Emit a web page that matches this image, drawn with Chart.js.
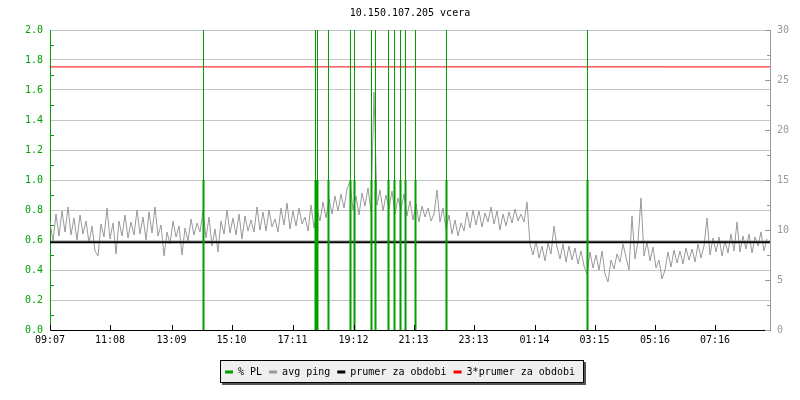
<!DOCTYPE html>
<html><head><meta charset="utf-8">
<script src="https://cdn.jsdelivr.net/npm/chart.js@4/dist/chart.umd.min.js"></script>
<style>html,body{margin:0;padding:0;background:#fff}#wrap{width:800px;height:400px}</style>
</head><body><div id="wrap"><canvas id="c" width="800" height="400"></canvas></div>
<script>
const titleText = '10.150.107.205 vcera';
const xTickLabels = ['09:07','11:08','13:09','15:10','17:11','19:12','21:13','23:13','01:14','03:15','05:16','07:16'];
const xTickMinutes = [0,120,243,363,485,607,727,847,969,1089,1210,1330];
const yLeftTicks = [0,0.2,0.4,0.6,0.8,1.0,1.2,1.4,1.6,1.8,2.0];
const yRightTicks = [0,5,10,15,20,25,30];
const legendLabels = ['% PL','avg ping','prumer za obdobi','3*prumer za obdobi'];

// packet loss events (minutes from 09:07)
const plTimes = [307,531,535,557,601,609,643,651,677,689,701,711,731,793,1075];
const plValues = [10,10,10,10,10,10,10,10,10,10,10,10,10,10,10];
const plTick = [1,1,1,1,1,1,1,1,1,1,1,1,1,1,1];

// avg ping (ms), one sample every 6 minutes
const pingStep = 6;
const pingMs = [
10.8, 8.9, 11.6, 9.4, 11.9, 9.8, 12.3, 9.5, 11.2, 9.0,
11.5, 9.6, 10.9, 8.7, 10.4, 7.9, 7.4, 10.6, 9.3, 12.2,
9.1, 10.7, 7.6, 10.9, 9.4, 11.5, 9.2, 10.8, 9.5, 12.0,
9.6, 11.3, 9.0, 11.8, 9.7, 12.3, 9.4, 10.5, 7.4, 9.8,
8.6, 10.9, 9.3, 10.4, 7.5, 10.2, 8.9, 11.1, 9.5, 10.7,
9.8, 11.9, 9.2, 11.3, 8.4, 10.1, 7.8, 10.9, 9.6, 12.0,
9.7, 11.2, 9.5, 11.6, 9.1, 11.4, 9.9, 11.0, 9.8, 12.3,
10.0, 11.8, 9.9, 12.0, 10.3, 11.1, 9.8, 12.2, 10.5, 12.7,
10.1, 11.9, 10.4, 12.2, 10.6, 11.3, 9.9, 12.5, 10.2, 12.0,
10.9, 12.8, 11.2, 13.1, 11.6, 13.4, 11.9, 13.6, 12.2, 14.1,
14.8, 12.0, 13.4, 11.5, 13.7, 12.4, 14.2, 11.8, 23.8, 12.5,
14.0, 11.9, 13.5, 12.1, 13.9, 11.6, 13.2, 12.0, 13.6, 11.4,
12.9, 11.0, 12.6, 10.8, 12.4, 11.3, 12.2, 10.9, 11.6, 14.0,
10.8, 12.2, 10.1, 11.5, 9.6, 11.0, 9.4, 10.7, 9.9, 11.8,
10.2, 12.0, 10.5, 11.9, 10.3, 11.7, 10.8, 12.3, 10.6, 11.9,
10.0, 11.6, 10.4, 11.8, 10.7, 12.1, 10.9, 11.6, 10.8, 12.8,
8.6, 7.5, 8.9, 7.2, 8.4, 6.9, 8.7, 7.6, 10.4, 8.3,
7.1, 8.6, 6.8, 8.4, 7.0, 8.2, 6.6, 7.9, 6.4, 5.6,
7.8, 6.2, 7.5, 6.0, 7.9, 5.6, 4.8, 7.0, 6.1, 7.6,
6.8, 8.6, 7.3, 6.0, 11.4, 7.1, 8.9, 13.2, 7.4, 8.8,
6.9, 8.3, 6.2, 7.0, 5.1, 6.0, 7.8, 6.3, 8.0, 6.7,
7.9, 6.6, 8.2, 7.0, 8.1, 6.8, 8.6, 7.2, 8.4, 11.2,
7.5, 9.2, 7.8, 9.3, 7.4, 8.9, 7.7, 9.6, 7.9, 10.8,
7.8, 9.4, 8.1, 9.6, 7.7, 9.3, 8.4, 9.8, 7.9, 9.1
];
const meanPing = [8.77];
const meanTimes = [0, 1440];

const GREEN = '#00a000', GRAY = '#999999', GRID = '#c4c4c4';
const MONO = 'DejaVu Sans Mono';

function spikes(times, vals){ const out=[]; times.forEach((t,i)=>{ out.push({x:t,y:0},{x:t,y:vals[i]},{x:t,y:null}); }); return out; }
const pingData = pingMs.map((v,i)=>({x:i*pingStep,y:v}));
const meanData = meanTimes.map(t=>({x:t,y:meanPing[0]}));
const redData = meanTimes.map(t=>({x:t,y:3*meanPing[0]}));

const extras = {
  id:'extras',
  beforeDraw(chart){
    const lg = chart.legend; if(!lg || !lg.legendHitBoxes.length) return;
    const hb = lg.legendHitBoxes;
    const l = Math.min(...hb.map(h=>h.left)) - 5;
    const r = Math.max(...hb.map(h=>h.left+h.width)) + 9;
    const t = lg.top, b = t + 23;
    const ctx = chart.ctx; ctx.save();
    ctx.fillStyle = '#555'; ctx.fillRect(Math.round(l)+2, t+2, Math.round(r-l), b-t);
    ctx.fillStyle = '#efefef'; ctx.fillRect(Math.round(l), t, Math.round(r-l), b-t);
    ctx.strokeStyle = '#000'; ctx.lineWidth = 1;
    ctx.strokeRect(Math.round(l)+0.5, t+0.5, Math.round(r-l)-1, b-t-1);
    ctx.restore();
  },
  afterDraw(chart){
    const ctx = chart.ctx, a = chart.chartArea, ys = chart.scales.y, y1 = chart.scales.y1, xs = chart.scales.x;
    ctx.save(); ctx.lineWidth = 1;
    ctx.strokeStyle = GREEN; ctx.beginPath();
    for (let k=1;k<20;k+=2){ const py = Math.round(ys.getPixelForValue(k/10))+0.5; ctx.moveTo(a.left, py); ctx.lineTo(a.left+4, py); }
    ctx.stroke();
    ctx.strokeStyle = GRAY; ctx.beginPath();
    for (let k=0;k<=12;k++){ const py = Math.round(y1.getPixelForValue(k*2.5))+0.5; const len = k%2===0?5:3; ctx.moveTo(a.right, py); ctx.lineTo(a.right-len, py); }
    ctx.stroke();
    ctx.strokeStyle = '#000'; ctx.beginPath();
    xTickMinutes.forEach(v=>{ const px = Math.round(xs.getPixelForValue(v))+0.5; ctx.moveTo(px, a.bottom); ctx.lineTo(px, a.bottom-5); });
    ctx.stroke();
    ctx.restore();
  }
};

new Chart(document.getElementById('c'), {
  type:'line',
  data:{ datasets:[
    {label:legendLabels[0], data:spikes(plTimes,plValues), yAxisID:'y', borderColor:GREEN, backgroundColor:GREEN, borderWidth:1, pointRadius:0, spanGaps:false, order:0},
    {label:'pl tick', data:spikes(plTimes,plTick), yAxisID:'y', borderColor:GREEN, backgroundColor:GREEN, borderWidth:2, pointRadius:0, spanGaps:false, order:1},
    {label:legendLabels[1], data:pingData, yAxisID:'y1', borderColor:GRAY, backgroundColor:GRAY, borderWidth:1, pointRadius:0, order:4},
    {label:legendLabels[2], data:meanData, yAxisID:'y1', borderColor:'#000', backgroundColor:'#000', borderWidth:2, pointRadius:0, order:2},
    {label:legendLabels[3], data:redData, yAxisID:'y1', borderColor:'#ff0000', backgroundColor:'#ff0000', borderWidth:1, pointRadius:0, order:3}
  ]},
  options:{
    responsive:false, animation:false, devicePixelRatio:1,
    layout:{padding:{left:0,right:0,top:0,bottom:13}},
    elements:{line:{tension:0}},
    plugins:{
      title:{display:true, fullSize:false, text:titleText, color:'#000', font:{family:MONO, size:10, weight:'normal'}, padding:{top:7,bottom:11}},
      tooltip:{enabled:false},
      legend:{position:'bottom', labels:{font:{family:MONO,size:10}, color:'#000', boxWidth:8, boxHeight:3, padding:7,
        generateLabels(chart){ return [0,2,3,4].map(i=>{ const ds=chart.data.datasets[i]; return {text:ds.label, fillStyle:ds.borderColor, strokeStyle:ds.borderColor, lineWidth:0, hidden:false, datasetIndex:i, fontColor:'#000'}; }); } } }
    },
    scales:{
      x:{type:'linear', min:0, max:1440,
        afterBuildTicks(s){ s.ticks = xTickMinutes.map(v=>({value:v})); },
        ticks:{callback:(v,i)=>xTickLabels[i], autoSkip:false, maxRotation:0, minRotation:0, padding:4, color:'#000', font:{family:MONO,size:10}},
        grid:{drawOnChartArea:false, drawTicks:false},
        border:{color:'#000', width:1},
        afterFit(s){ s.height = 30; }
      },
      y:{position:'left', min:0, max:2,
        afterBuildTicks(s){ s.ticks = yLeftTicks.map(v=>({value:v})); },
        ticks:{callback:v=>Number(v).toFixed(1), color:GREEN, padding:7, font:{family:MONO,size:10}},
        grid:{color:GRID, drawTicks:false},
        border:{color:GREEN, width:1},
        afterFit(s){ s.width = 50; }
      },
      y1:{position:'right', min:0, max:30,
        afterBuildTicks(s){ s.ticks = yRightTicks.map(v=>({value:v})); },
        ticks:{color:GRAY, padding:7, font:{family:MONO,size:10}},
        grid:{drawOnChartArea:false, drawTicks:false},
        border:{color:GRAY, width:1},
        afterFit(s){ s.width = 30; }
      }
    }
  },
  plugins:[extras]
});
</script></body></html>
